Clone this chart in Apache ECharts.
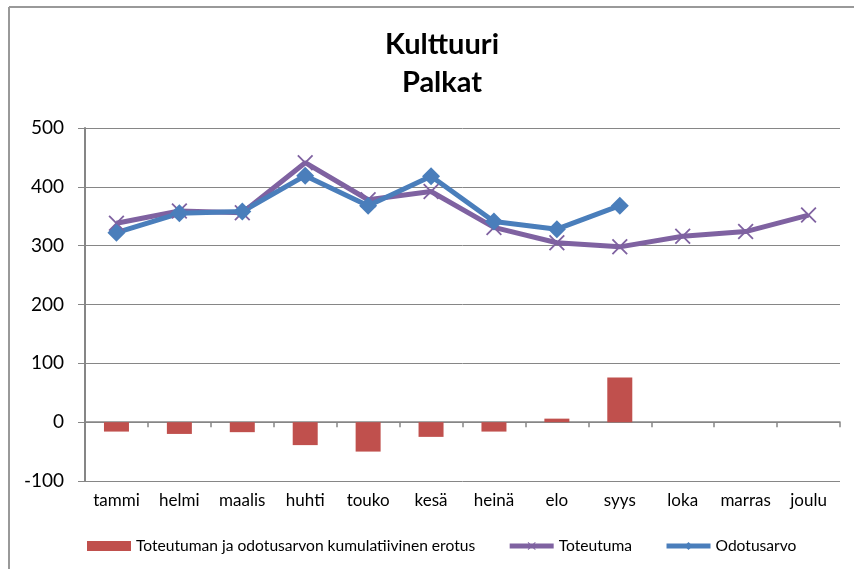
<!DOCTYPE html>
<html>
<head>
<meta charset="utf-8">
<script src="https://cdn.jsdelivr.net/npm/echarts@6/dist/echarts.min.js"></script>
<style>
  html, body { margin: 0; padding: 0; background: #fff; }
  #chart { width: 854px; height: 569px; }
</style>
</head>
<body>
<div id="chart"></div>
<script>
// kuukaudet
var months = ['tammi', 'helmi', 'maalis', 'huhti', 'touko', 'kesä', 'heinä', 'elo', 'syys', 'loka', 'marras', 'joulu'];
// kumulatiivinen erotus
var erotus = [-16, -20, -17, -39, -50, -25, -16, 6, 76, null, null, null];
var toteutuma = [338, 359, 356, 441, 378, 392, 331, 305, 298, 316, 324, 352];
var odotusarvo = [322, 355, 358, 419, 368, 418, 341, 328, 368, null, null, null];
var yTicks = [-100, 0, 100, 200, 300, 400, 500];

var FONT = 'Lato';
var GRAY = '#868686';
var xMark = 'path://M0,0.8L0.8,0L5,4.2L9.2,0L10,0.8L5.8,5L10,9.2L9.2,10L5,5.8L0.8,10L0,9.2L4.2,5Z';

var myChart = echarts.init(document.getElementById('chart'));

var option = {
	animation: false,
	textStyle: { fontFamily: FONT },
	title: {
		text: 'Kulttuuri\nPalkat',
		left: 437,
		textAlign: 'center',
		top: 21,
		textStyle: { fontFamily: FONT, fontSize: 29, fontWeight: 'bold', color: '#000', lineHeight: 38 }
	},
	graphic: [
		{ type: 'line', shape: { x1: 9, y1: 7, x2: 854, y2: 7 }, style: { stroke: '#999', lineWidth: 2 } },
		{ type: 'line', shape: { x1: 9, y1: 7, x2: 9, y2: 569 }, style: { stroke: '#999', lineWidth: 2 } }
	],
	legend: {
		left: 82,
		top: 533,
		itemGap: 32,
		itemWidth: 44,
		itemHeight: 10,
		textStyle: { fontFamily: FONT, fontSize: 15.6, color: '#000' },
		data: [
			{ name: 'Toteutuman ja odotusarvon kumulatiivinen erotus', icon: 'rect' },
			{ name: 'Toteutuma', lineStyle: { width: 5 } },
			{ name: 'Odotusarvo', lineStyle: { width: 5 } }
		]
	},
	grid: { left: 85, right: 14, top: 128, bottom: 88 },
	xAxis: [{
		// nolla-akseli ja jakoviivat
		type: 'category',
		data: months,
		position: 'bottom',
		axisLine: { show: true, onZero: true, onZeroAxisIndex: 0, lineStyle: { color: GRAY, width: 1.5 } },
		axisTick: { show: true, interval: 0, length: 5, lineStyle: { color: GRAY, width: 1.5 } },
		axisLabel: { show: false }
	}, {
		// kuukausien nimet alareunassa
		type: 'category',
		data: months,
		position: 'bottom',
		axisLine: { show: false, onZero: false },
		axisTick: { show: false },
		axisLabel: { interval: 0, fontFamily: FONT, fontSize: 17, color: '#000', margin: 11 }
	}],
	yAxis: {
		type: 'value',
		min: yTicks[0],
		max: yTicks[yTicks.length - 1],
		interval: 100,
		axisLine: { show: true, lineStyle: { color: GRAY, width: 2 } },
		axisTick: { show: true, length: 7, lineStyle: { color: GRAY } },
		axisLabel: { fontFamily: FONT, fontSize: 19, color: '#000', margin: 21 },
		splitLine: { show: true, lineStyle: { color: GRAY, width: 1 } }
	},
	series: [{
		name: 'Toteutuman ja odotusarvon kumulatiivinen erotus',
		type: 'bar',
		data: erotus,
		barWidth: 25,
		itemStyle: { color: '#C0504D' }
	}, {
		name: 'Toteutuma',
		type: 'line',
		data: toteutuma,
		symbol: xMark,
		symbolSize: 16,
		lineStyle: { color: '#7F62A1', width: 5 },
		itemStyle: { color: '#7F62A1' }
	}, {
		name: 'Odotusarvo',
		type: 'line',
		data: odotusarvo,
		symbol: 'diamond',
		symbolSize: 18,
		lineStyle: { color: '#4A7EBB', width: 5 },
		itemStyle: { color: '#4A7EBB' }
	}]
};

myChart.setOption(option);
</script>
</body>
</html>
